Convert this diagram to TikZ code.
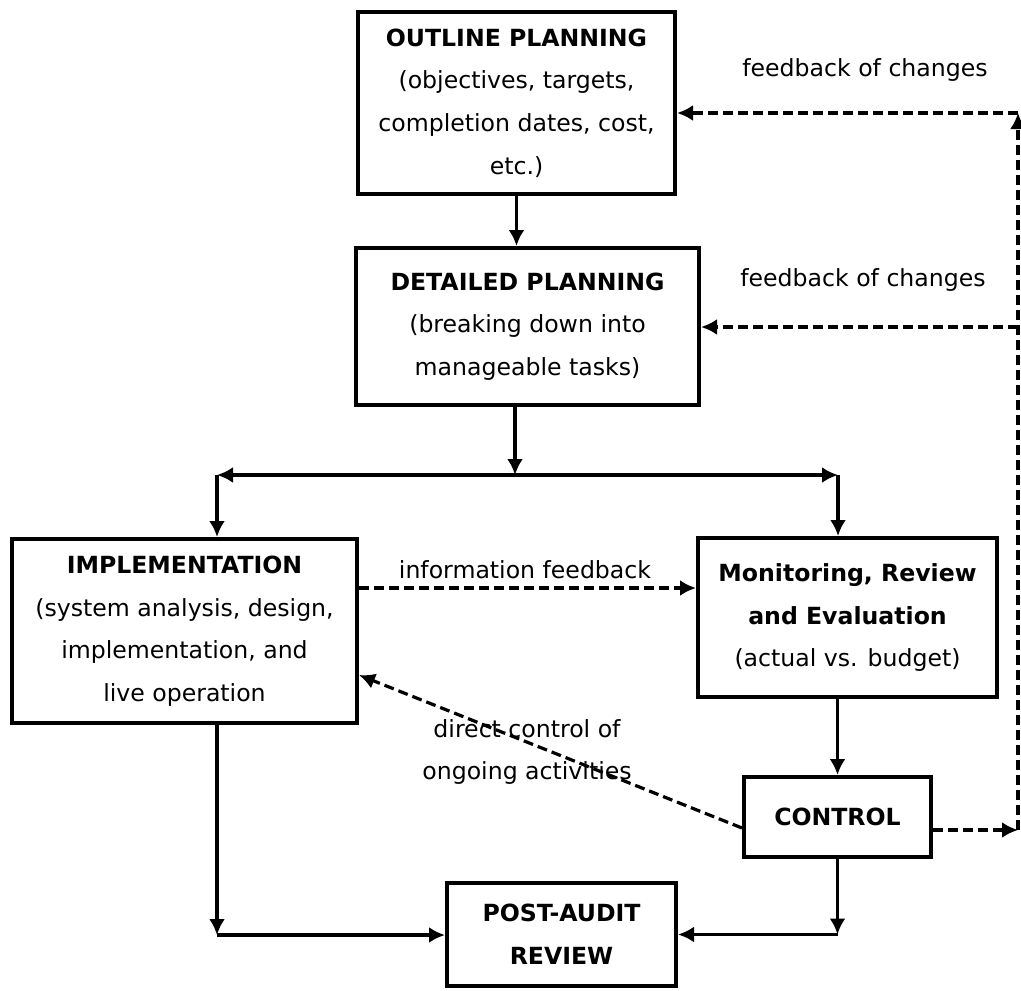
\documentclass[tikz,border=0pt]{standalone}
\usepackage{fontspec}
\setmainfont{DejaVu Sans}
\usetikzlibrary{arrows.meta}

\begin{document}
\begin{tikzpicture}[x=.5pt, y=-.5pt,
  box/.style={draw, line width=2pt, align=center, inner sep=0pt,
    font=\fontsize{11.8}{21.3}\selectfont},
  lbl/.style={align=center, font=\fontsize{11.8}{21}\selectfont},
  line/.style={line width=1.6pt, -{Latex[length=8pt,width=8pt]}},
  fb/.style={line, dash pattern=on 5pt off 2.5pt}]
\useasboundingbox (0,0) rectangle (1021,990);
\node[box, minimum width=158.5pt, minimum height=91pt] (outline) at (516.5,103)
  {\textbf{OUTLINE PLANNING}\\(objectives, targets,\\completion dates, cost,\\etc.)};
\node[box, minimum width=171.5pt, minimum height=78.5pt] (detailed) at (527.5,326.5)
  {\textbf{DETAILED PLANNING}\\(breaking down into\\manageable tasks)};
\node[box, minimum width=172.5pt, minimum height=92pt] (impl) at (184.5,631)
  {\textbf{IMPLEMENTATION}\\(system analysis, design,\\implementation, and\\live operation};
\node[box, minimum width=149.5pt, minimum height=79.5pt] (monitor) at (847.5,617.5)
  {\textbf{Monitoring, Review}\\\textbf{and Evaluation}\\(actual vs. budget)};
\node[box, minimum width=93.5pt, minimum height=40pt] (control) at (837.5,817)
  {\textbf{CONTROL}};
\node[box, minimum width=114.5pt, minimum height=51.5pt] (audit) at (561.5,934.5)
  {\textbf{POST-AUDIT}\\\textbf{REVIEW}};
\coordinate (split) at (515,475);
\coordinate (lsplit) at (217,475);
\coordinate (rsplit) at (838,475);
\coordinate (lcorner) at (217,935);
\coordinate (fbcorner) at (1018,830);
\coordinate (fbtop) at (1018,113);
\coordinate (fbmid) at (1018,327);
\draw[line] (outline.south) -- (outline.south |- detailed.north);
\draw[line] (split |- detailed.south) -- (split);
\draw[line, {Latex[length=8pt,width=8pt]}-{Latex[length=8pt,width=8pt]}] (lsplit) -- (rsplit);
\draw[line] (lsplit) -- (lsplit |- impl.north);
\draw[line] (rsplit) -- (rsplit |- monitor.north);
\draw[line] (control.north |- monitor.south) -- (control.north);
\draw[line] (control.south) -- (control.south |- audit.east);
\draw[line] (control.south |- audit.east) -- (audit.east);
\draw[line] (lsplit |- impl.south) -- (lcorner);
\draw[line] (lcorner) -- (lcorner -| audit.west);
\draw[fb] ([yshift=21.5pt]impl.east) -- ([yshift=21.5pt]impl.east -| monitor.west);
\draw[fb] ([yshift=-5.5pt]control.west) -- ([yshift=-22pt]impl.east);
\draw[fb] ([yshift=-6.5pt]control.east) -- (fbcorner);
\draw[fb] (fbcorner) -- (fbtop);
\draw[fb] (fbtop) -- (fbtop -| outline.east);
\draw[fb] (fbmid) -- (fbmid -| detailed.east);
\node[lbl] (fb1) at (865,70) {feedback of changes};
\node[lbl] (fb2) at (863,280) {feedback of changes};
\node[lbl] (info) at (525,570) {information feedback};
\node[lbl] (direct) at (527,752) {direct control of\\ongoing activities};
\end{tikzpicture}
\end{document}
